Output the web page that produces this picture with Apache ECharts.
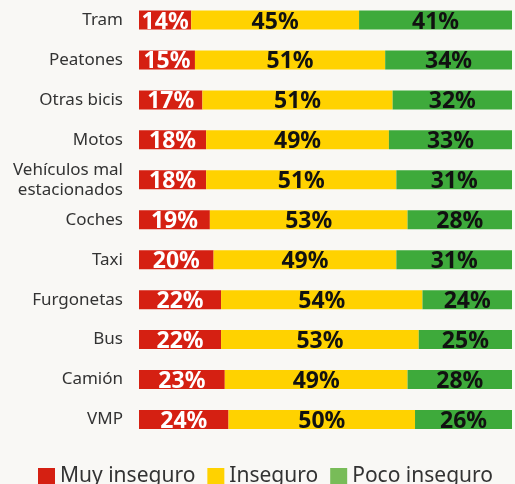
<!DOCTYPE html>
<html>
<head>
<meta charset="utf-8">
<script src="https://cdn.jsdelivr.net/npm/echarts@6/dist/echarts.min.js"></script>
<style>
  html, body { margin: 0; padding: 0; background: #f9f8f5; }
  #chart { width: 515px; height: 484px; }
</style>
</head>
<body>
<div id="chart"></div>
<script>
// categorias (de arriba abajo)
var categories = ['Tram', 'Peatones', 'Otras bicis', 'Motos', 'Vehículos mal\nestacionados',
  'Coches', 'Taxi', 'Furgonetas', 'Bus', 'Camión', 'VMP'];
var muyInseguro = [14, 15, 17, 18, 18, 19, 20, 22, 22, 23, 24];
var inseguro = [45, 51, 51, 49, 51, 53, 49, 54, 53, 49, 50];
var pocoInseguro = [41, 34, 32, 33, 31, 28, 31, 24, 25, 28, 26];
var seriesNames = ['Muy inseguro', 'Inseguro', 'Poco inseguro'];

var chart = echarts.init(document.getElementById('chart'));

function makeLabel(color) {
  return {
    show: true,
    position: 'inside',
    offset: [0, 2],
    formatter: '{c}%',
    color: color,
    fontFamily: 'Noto Sans',
    fontWeight: 'bold',
    fontSize: 23
  };
}

var option = {
  backgroundColor: '#f9f8f5',
  animation: false,
  grid: {
    left: 139,
    right: 3,
    top: -0.5,
    height: 440
  },
  legend: {
    bottom: -8,
    left: 33,
    itemWidth: 17,
    itemHeight: 17,
    itemGap: 12,
    icon: 'rect',
    textStyle: {
      fontFamily: 'Noto Sans',
      fontSize: 21,
      color: '#333'
    },
    data: [
      { name: seriesNames[0], itemStyle: { color: '#d52012' } },
      { name: seriesNames[1], itemStyle: { color: '#ffd200' } },
      { name: seriesNames[2], itemStyle: { color: '#78bc58' } }
    ]
  },
  xAxis: {
    type: 'value',
    min: 0,
    max: 100,
    show: false
  },
  yAxis: {
    type: 'category',
    data: categories,
    inverse: true,
    axisLine: { show: false },
    axisTick: { show: false },
    axisLabel: {
      margin: 16,
      fontFamily: 'Noto Sans',
      fontSize: 17,
      lineHeight: 20,
      color: '#333'
    }
  },
  series: [
    {
      name: seriesNames[0],
      type: 'bar',
      stack: 'total',
      barWidth: 19,
      itemStyle: { color: '#d52012' },
      label: makeLabel('#fff'),
      data: muyInseguro
    },
    {
      name: seriesNames[1],
      type: 'bar',
      stack: 'total',
      barWidth: 19,
      itemStyle: { color: '#ffd200' },
      label: makeLabel('#111'),
      data: inseguro
    },
    {
      name: seriesNames[2],
      type: 'bar',
      stack: 'total',
      barWidth: 19,
      itemStyle: { color: '#3eaa3b' },
      label: makeLabel('#111'),
      data: pocoInseguro
    }
  ]
};

chart.setOption(option);
</script>
</body>
</html>
